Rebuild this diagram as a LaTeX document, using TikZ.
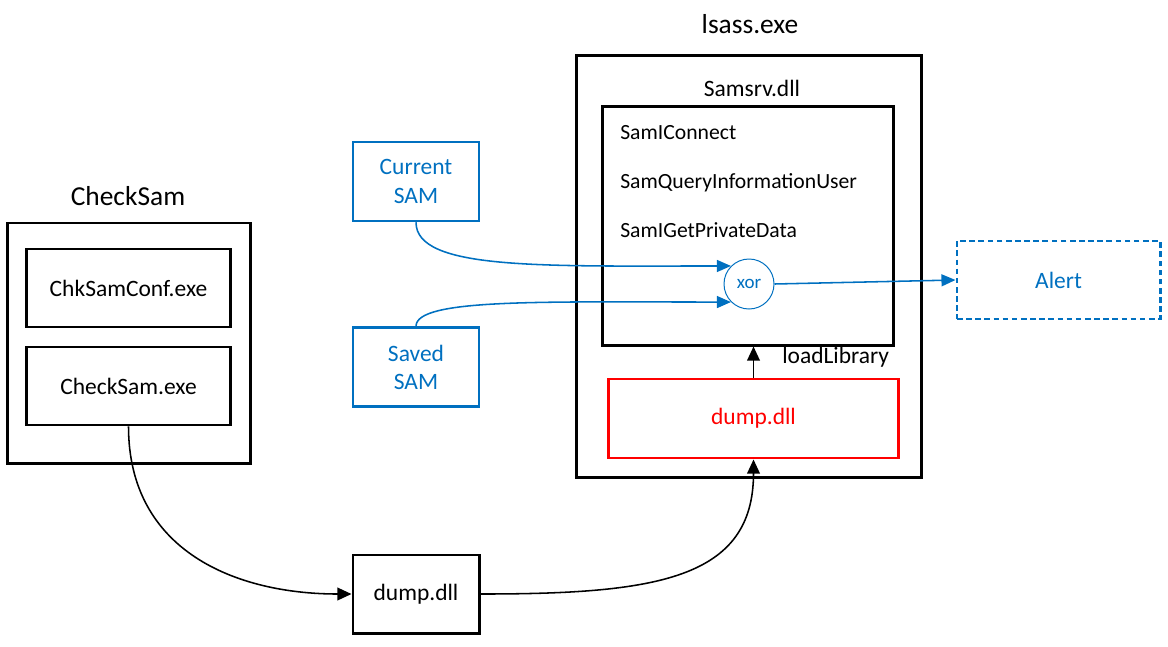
\documentclass[tikz,border=0pt]{standalone}
\usepackage{fontspec}
\setmainfont{Carlito}
\usepackage{tikz}
\usetikzlibrary{arrows.meta,positioning,calc}
\definecolor{ink}{HTML}{000000}
\definecolor{sam}{HTML}{0070C0}
\definecolor{hot}{HTML}{FF0000}
\newcommand{\nl}{\\}

\begin{document}
\begin{tikzpicture}[x=0.025cm,y=-0.025cm,
  node distance=0.425cm and 0.7cm,
  box/.style={rectangle,draw=ink,line width=2.1pt,minimum width=5.075cm,
    minimum height=1.95cm,inner sep=0pt,align=center,
    font=\fontsize{16.7}{20}\selectfont,text=ink},
  grp/.style={rectangle,draw=ink,line width=2.1pt,inner sep=0pt},
  sambox/.style={box,draw=sam,text=sam,line width=1.8pt,
    minimum width=3.15cm,minimum height=1.975cm},
  ttl/.style={font=\fontsize{19.5}{23}\selectfont,text=ink},
  lbl/.style={font=\fontsize{16.7}{20}\selectfont,text=ink},
  fn/.style={anchor=base west,inner sep=0pt,font=\fontsize{15.4}{18}\selectfont,text=ink},
  arr/.style={-{Triangle[length=10pt,width=9pt]},line width=1.1pt,color=ink},
  barr/.style={-{Triangle[length=10pt,width=8.5pt]},line width=1.1pt,color=sam},
]
  \useasboundingbox (0,0) rectangle (1168,646);
  % CheckSam side
  \node[ttl] (cst) at (128,196) {CheckSam};
  \node[grp,minimum width=6.05cm,minimum height=6cm] (cs) at (129,343) {};
  \node[box] (conf) at (128.5,288) {ChkSamConf.exe};
  \node[box,below=of conf] (chk) {CheckSam.exe};
  \node[box,minimum width=3.15cm] (dmp) at (416,594) {dump.dll};
  % lsass side
  \node[ttl] (lst) at (750,24) {lsass.exe};
  \node[grp,minimum width=8.6cm,minimum height=10.525cm] (ls) at (749,266.5) {};
  \node[lbl] (srvt) at (752,88) {Samsrv.dll};
  \node[grp,minimum width=7.25cm,minimum height=5.95cm] (srv) at (748,226) {};
  \node[fn] (f1) at (620,139) {SamIConnect};
  \node[fn] (f2) at (620,188) {SamQueryInformationUser};
  \node[fn] (f3) at (620,237) {SamIGetPrivateData};
  \node[circle,draw=sam,line width=0.7pt,minimum size=1.25cm,inner sep=0pt,
    text=sam,font=\fontsize{13.5}{16}\selectfont] (xor) at (749,284) {xor};
  \node[box,draw=hot,text=hot,minimum width=7.225cm,minimum height=1.975cm] (hook) at (753.5,418.5) {dump.dll};
  \node[lbl,anchor=west,inner sep=0pt] (ll) at (782,357) {loadLibrary};
  % SAM sources and alert
  \node[sambox] (cur) at (416,181.5) {Current\nl SAM};
  \node[sambox,below=2.6cm of cur] (svd) {Saved\nl SAM};
  \node[box,draw=sam,text=sam,dash pattern=on 4pt off 2.5pt] (alrt) at (1058.5,280) {Alert};

  \draw[arr] (chk.south) .. controls +(0,125) and +(-115,0) .. (dmp.west);
  \draw[arr] (dmp.east) .. controls +(175,0) and +(0,120) .. (hook.south);
  \draw[arr] (hook.north) -- (hook.north |- srv.south);
  \draw[barr] (cur.south) .. controls +(0,48) and +(-190,0) .. (xor.135);
  \draw[barr] (svd.north) .. controls +(0,-28) and +(-190,0) .. (xor.-135);
  \draw[barr] (xor.east) -- (alrt.west);
\end{tikzpicture}
\end{document}
